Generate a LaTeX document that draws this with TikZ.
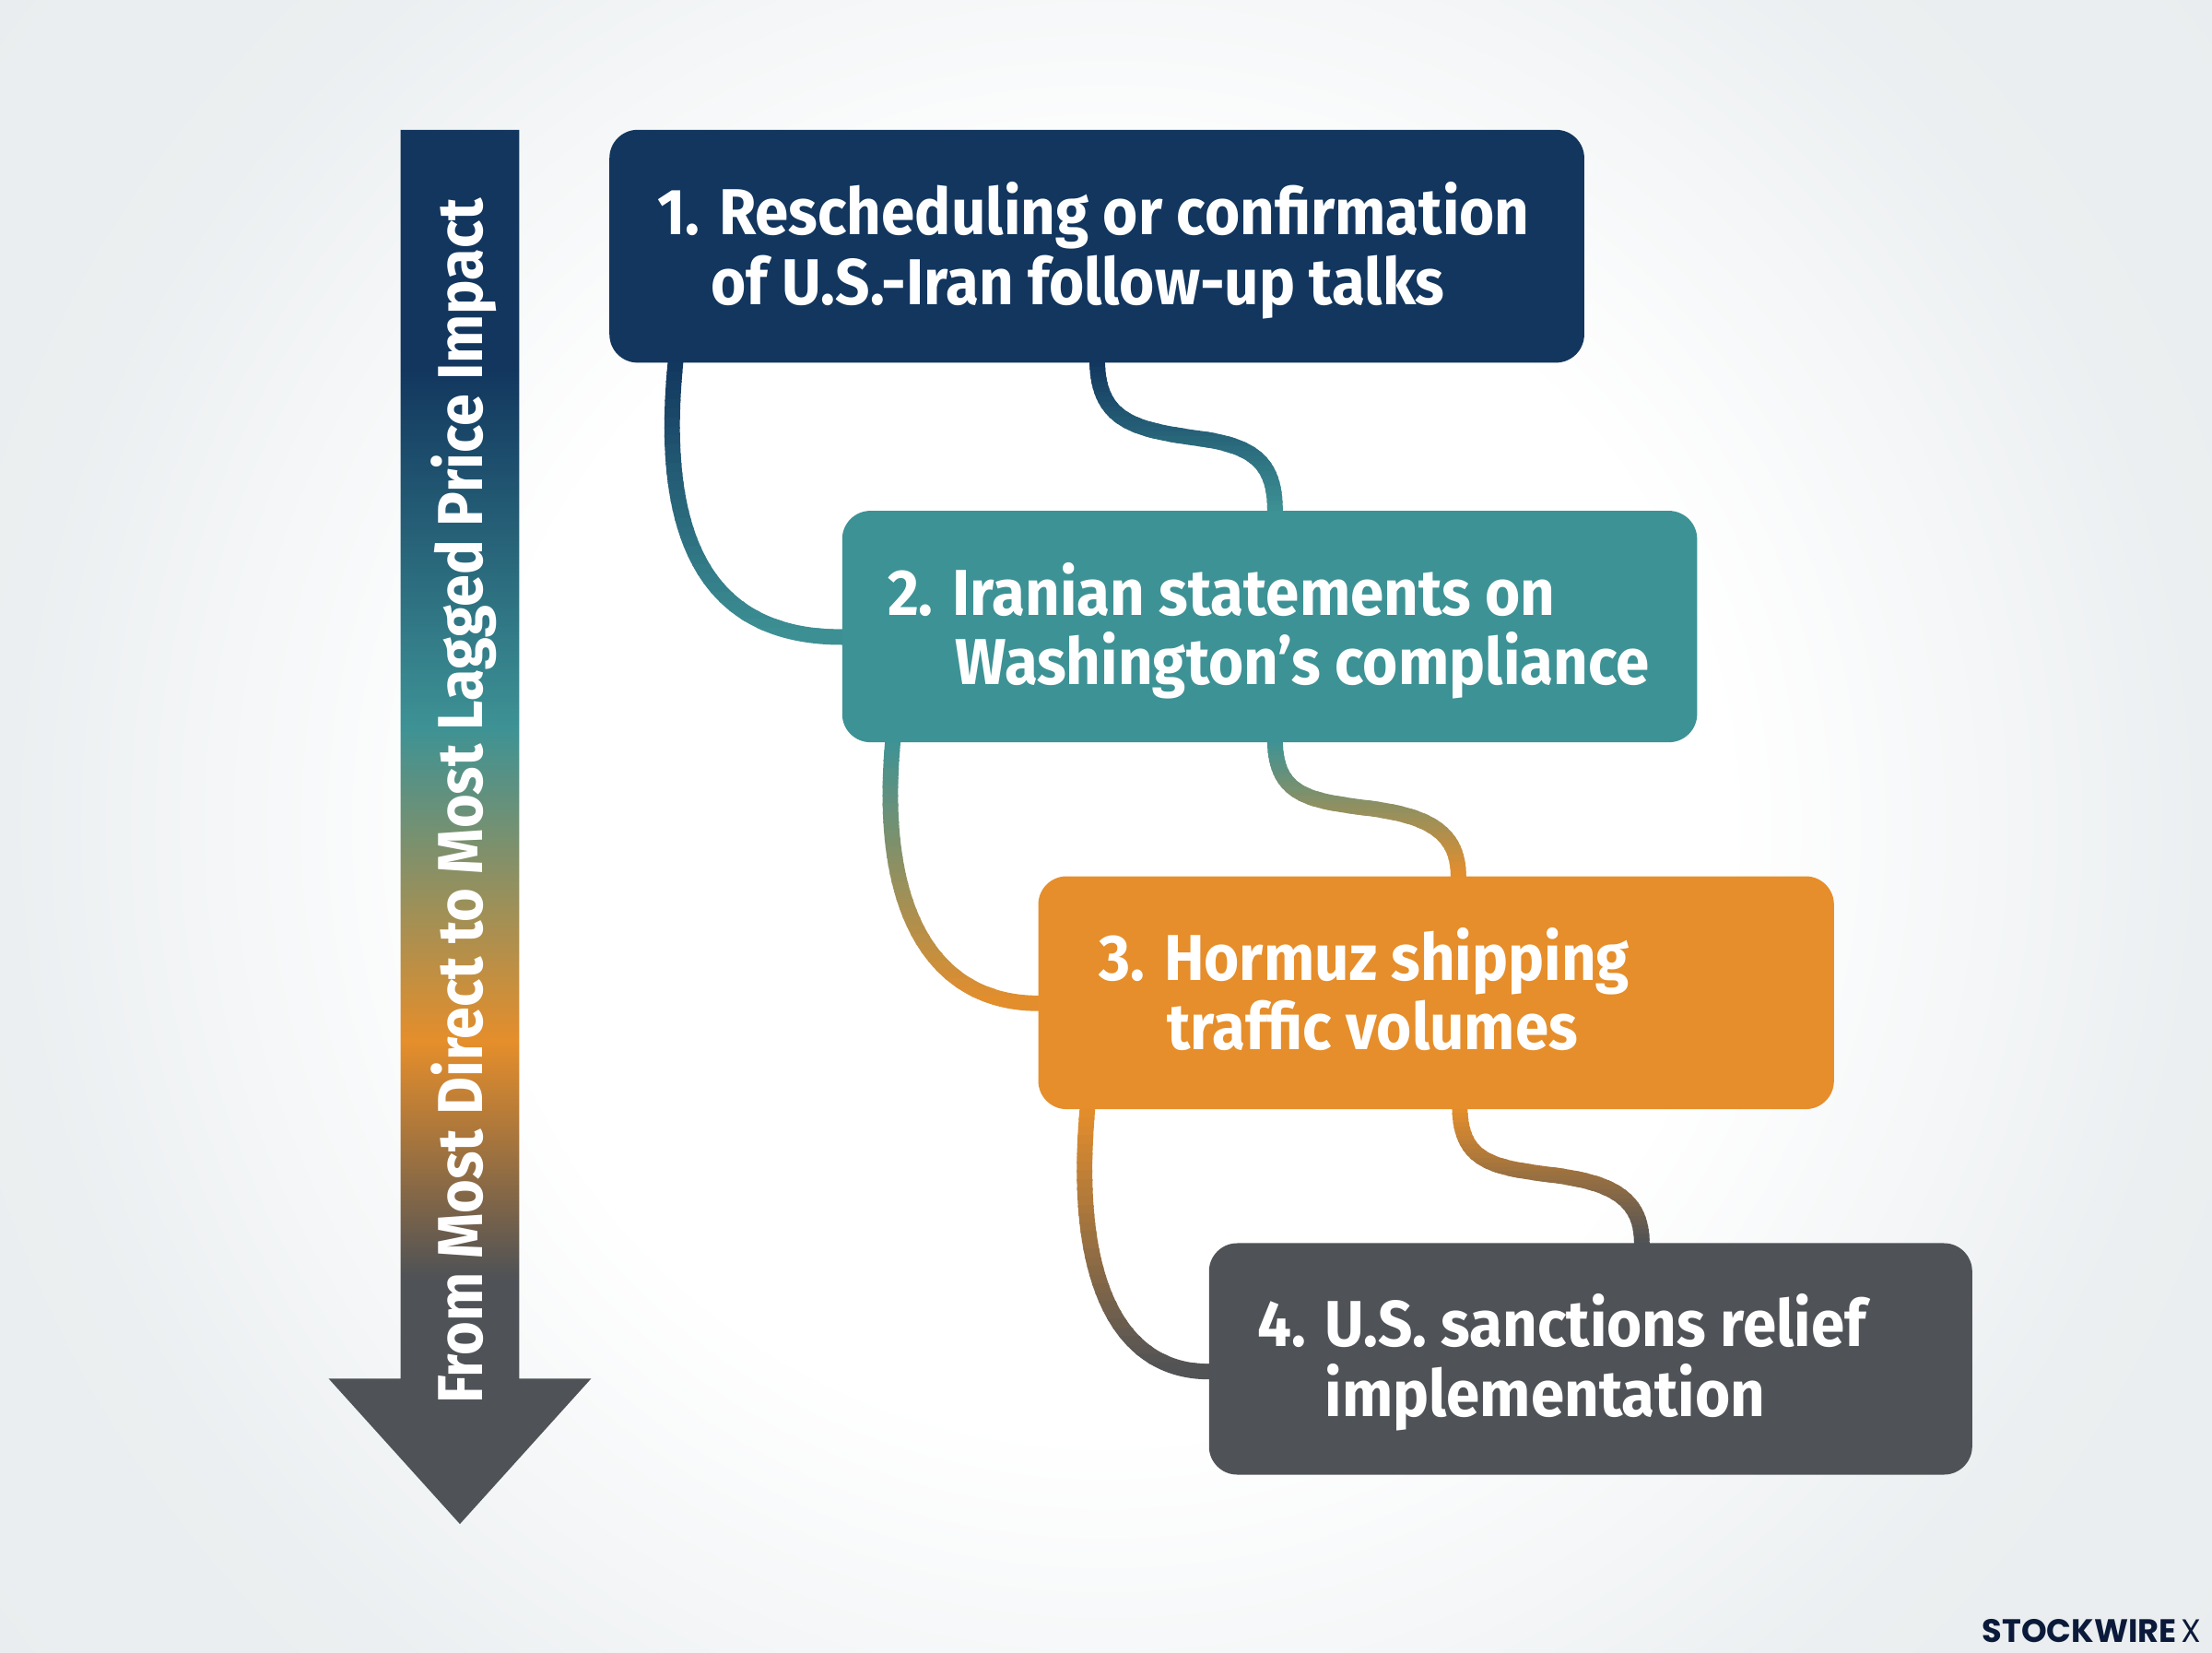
\documentclass[tikz,border=0pt]{standalone}
\usepackage{fontspec}
\setmainfont{Fira Sans}[FakeStretch=0.93]
\newfontfamily\barfont{Fira Sans}[FakeStretch=0.915]
\newfontfamily\wmfont{Poppins}
\definecolor{cnavy}{RGB}{18,54,94}
\definecolor{cteal}{RGB}{61,146,149}
\definecolor{corange}{RGB}{229,142,43}
\definecolor{cgrey}{RGB}{79,82,86}
\definecolor{cedge}{RGB}{233,237,239}
\definecolor{cink}{RGB}{11,26,58}
\pgfdeclareradialshading{bgshade}{\pgfpoint{0bp}{0bp}}{color(0bp)=(white); color(14bp)=(white); color(25bp)=(cedge!90!white); color(33bp)=(cedge); color(72bp)=(cedge)}
\pgfdeclareverticalshading{barshade}{100bp}{color(0bp)=(cgrey); color(33.85bp)=(cgrey); color(42.3bp)=(corange); color(53.6bp)=(cteal); color(66.5bp)=(cnavy); color(100bp)=(cnavy)}
\pgfdeclarelayer{back}
\pgfdeclarelayer{links}
\pgfsetlayers{back,links,main}
\tikzset{
 stepbox/.style={rectangle,rounded corners=20pt,inner sep=0pt,draw=none},
 steptext/.style={anchor=base west,text=white,inner sep=0pt,font=\fontsize{46}{50}\selectfont\bfseries,align=left},
 conn/.style={line width=11pt,line cap=butt},
}
\newcommand\gradconn[5]{%
 \foreach \k in {0,...,29}{%
  \pgfmathsetmacro\ya{#2+(#3-#2)*\k/30-(\k==0?10:0)}%
  \pgfmathsetmacro\yb{#2+(#3-#2)*(\k+1)/30+1+(\k==29?10:0)}%
  \pgfmathsetmacro\pc{100*(1-(\k+0.5)/30)}%
  \begin{scope}
   \clip (400,\ya) rectangle (1400,\yb);
   \draw[conn,draw=#4!\pc!#5] #1;
  \end{scope}}}
\begin{document}
\begin{tikzpicture}[x=1pt,y=-1pt]
\useasboundingbox (0,0) rectangle (1568,1170.8);
\begin{pgfonlayer}{back}
\begin{scope}
\clip (0,0) rectangle (1568,1170.8);
\shade[shading=bgshade] (0,-185) rectangle (1568,1355.8);
\end{scope}
\end{pgfonlayer}
% arrow
\shade[shading=barshade] (284,92) -- (368,92) -- (368,977) -- (419,977) -- (326,1080) -- (233,977) -- (284,977) -- cycle;
\node[rotate=90,anchor=base west,text=white,inner sep=0pt,font=\barfont\fontsize{45}{50}\selectfont\bfseries] (barlabel) at (342,995) {From Most Direct to Most Lagged Price Impact};
% boxes
\node[stepbox,fill=cnavy,minimum width=691pt,minimum height=165pt] (b1) at (777.5,174.5) {};
\node[stepbox,fill=cteal,minimum width=606pt,minimum height=164pt] (b2) at (900,444) {};
\node[stepbox,fill=corange,minimum width=564pt,minimum height=165pt] (b3) at (1018,703.5) {};
\node[stepbox,fill=cgrey,minimum width=541pt,minimum height=164pt] (b4) at (1127.5,963) {};
% text
\node[steptext] (t1a) at (466,166) {1. Rescheduling or confirmation};
\node[steptext] (t1b) at (504,216) {of U.S.-Iran follow-up talks};
\node[steptext] (t2a) at (629,436) {2. Iranian statements on};
\node[steptext] (t2b) at (677,485) {Washington’s compliance};
\node[steptext] (t3a) at (779,695) {3. Hormuz shipping};
\node[steptext] (t3b) at (827,744) {traffic volumes};
\node[steptext] (t4a) at (891,954) {4. U.S. sanctions relief};
\node[steptext] (t4b) at (939,1004) {implementation};
% connector ends
\coordinate (l1s) at ([xshift=47pt]b1.south west);
\coordinate (l1e) at ([yshift=-7.5pt]b2.west);
\coordinate (l2s) at ([xshift=36pt]b2.south west);
\coordinate (l2e) at ([yshift=-7.5pt]b3.west);
\coordinate (l3s) at ([xshift=35pt]b3.south west);
\coordinate (l3e) at ([yshift=-9pt]b4.west);
\coordinate (r1s) at ([xshift=346pt]b1.south west);
\coordinate (r1e) at ([xshift=307pt]b2.north west);
\coordinate (r2s) at ([xshift=307pt]b2.south west);
\coordinate (r2e) at ([xshift=298pt]b3.north west);
\coordinate (r3s) at ([xshift=299pt]b3.south west);
\coordinate (r3e) at ([xshift=307pt]b4.north west);
\begin{pgfonlayer}{links}
\gradconn{(l1s) ++(0,-10) -- (l1s) .. controls +(-14,143) and +(-82,0) .. (l1e) -- +(10,0)}{257}{452}{cnavy}{cteal}
\gradconn{(l2s) ++(0,-10) -- (l2s) .. controls +(-11,124) and +(-71,0) .. (l2e) -- +(10,0)}{526}{712}{cteal}{corange}
\gradconn{(l3s) ++(0,-10) -- (l3s) .. controls +(-11,124) and +(-62,0) .. (l3e) -- +(10,0)}{786}{972}{corange}{cgrey}
\gradconn{(r1s) ++(0,-10) -- (r1s) .. controls +(1,41) and +(-41,-6) .. +(68,53) .. controls +(42,5) and +(0,-35) .. (r1e) -- +(0,10)}{257}{362}{cnavy}{cteal}
\gradconn{(r2s) ++(0,-10) -- (r2s) .. controls +(1,37) and +(-38,-5) .. +(62,46) .. controls +(42,5) and +(0,-34) .. (r2e) -- +(0,10)}{526}{621}{cteal}{corange}
\gradconn{(r3s) ++(0,-10) -- (r3s) .. controls +(1,37) and +(-38,-5) .. +(62,46) .. controls +(42,5) and +(0,-34) .. (r3e) -- +(0,10)}{786}{881}{corange}{cgrey}
\end{pgfonlayer}
% watermark
\node[anchor=base west,inner sep=0pt,text=cink,font=\wmfont\fontsize{23}{23}\selectfont\bfseries] (wm) at (1405,1164) {STOCKWIRE};
\node[anchor=base west,inner sep=0pt,text=cink,font=\wmfont\fontsize{23}{23}\selectfont] (wmx) at (1546,1164) {X};
\end{tikzpicture}
\end{document}
